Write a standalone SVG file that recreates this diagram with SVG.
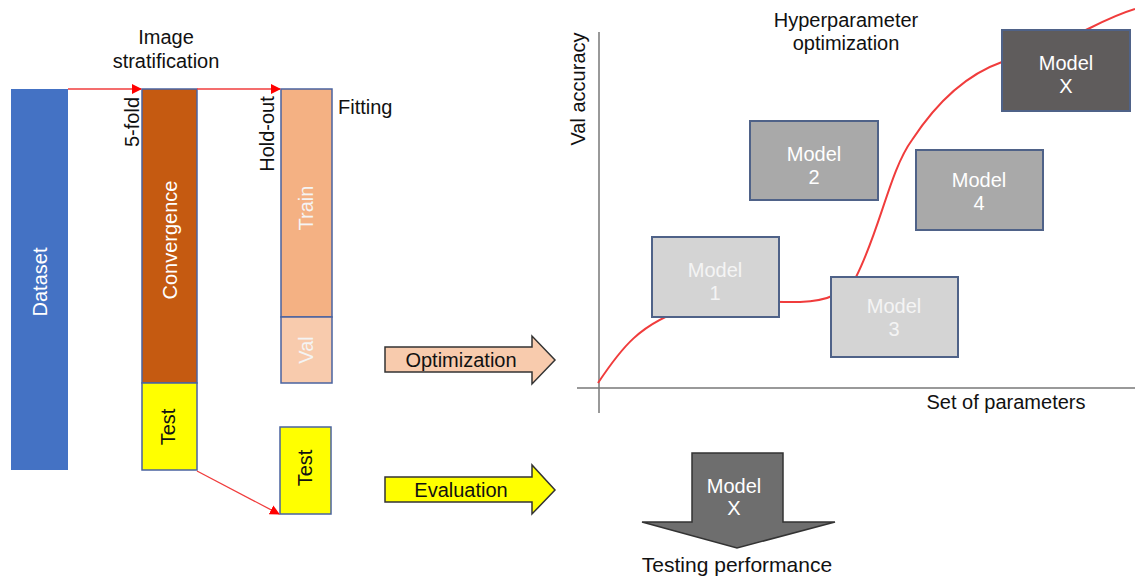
<svg xmlns="http://www.w3.org/2000/svg" width="1135" height="580" viewBox="0 0 1135 580">
<defs>
<style>
text{font-family:"Liberation Sans",Arial,sans-serif;font-size:20px;fill:#111}
.w{fill:#fff}
.lw{fill:#f4f4f4}
.bar{stroke:#4a63a0;stroke-width:1.5}
.mdl{stroke:#4f6288;stroke-width:2}
.red{stroke:#f03c3c;stroke-width:1.3;fill:none}
.ax{stroke:#777;stroke-width:1.5;fill:none}
.bigarrow{stroke:#333;stroke-width:1.5}
</style>
<marker id="ah" viewBox="0 0 10 10" refX="9" refY="5" markerWidth="10" markerHeight="10" markerUnits="userSpaceOnUse" orient="auto">
<path d="M0,0 L10,5 L0,10 Z" fill="#ff0000"/>
</marker>
</defs>
<rect width="1135" height="580" fill="#fff"/>

<text x="166" y="44" text-anchor="middle">Image</text>
<text x="166" y="68" text-anchor="middle">stratification</text>
<text x="338" y="114">Fitting</text>
<text transform="translate(139,122) rotate(-90)" text-anchor="middle">5-fold</text>
<text transform="translate(274,134) rotate(-90)" text-anchor="middle">Hold-out</text>

<g id="dataset">
<rect x="11" y="89" width="57" height="381" fill="#4472c4"/>
<text class="w" transform="translate(47,282) rotate(-90)" text-anchor="middle">Dataset</text>
</g>
<g id="convergence">
<rect class="bar" x="142" y="89" width="55" height="294" fill="#c55a11"/>
<text class="w" transform="translate(177,240) rotate(-90)" text-anchor="middle">Convergence</text>
</g>
<g id="test1">
<rect class="bar" x="142" y="383" width="55" height="87" fill="#ffff00"/>
<text transform="translate(175,427) rotate(-90)" text-anchor="middle">Test</text>
</g>
<g id="train">
<rect class="bar" x="281" y="89" width="51" height="228" fill="#f4b183"/>
<text class="lw" transform="translate(313,208) rotate(-90)" text-anchor="middle">Train</text>
</g>
<g id="val">
<rect class="bar" x="281" y="317" width="51" height="66" fill="#f8cbad"/>
<text class="lw" transform="translate(313,350) rotate(-90)" text-anchor="middle">Val</text>
</g>
<g id="test2">
<rect class="bar" x="280" y="427" width="51" height="87" fill="#ffff00"/>
<text transform="translate(312,468) rotate(-90)" text-anchor="middle">Test</text>
</g>

<g id="optimization">
<path class="bigarrow" d="M385,347 L532,347 L532,336 L555,360 L532,384 L532,372 L385,372 Z" fill="#f8cbad"/>
<text x="461" y="367" text-anchor="middle">Optimization</text>
</g>
<g id="evaluation">
<path class="bigarrow" d="M385,477 L532,477 L532,465 L555,490 L532,514 L532,502 L385,502 Z" fill="#ffff00"/>
<text x="461" y="497" text-anchor="middle">Evaluation</text>
</g>

<g id="chart-axes">
<path class="ax" d="M599,32 L599,413"/>
<path class="ax" d="M577,388 L1135,388"/>
<text transform="translate(585,89) rotate(-90)" text-anchor="middle">Val accuracy</text>
<text x="1006" y="409" text-anchor="middle">Set of parameters</text>
<text x="846" y="27" text-anchor="middle">Hyperparameter</text>
<text x="846" y="50" text-anchor="middle">optimization</text>
</g>

<g id="connectors">
<path class="red" d="M68,89 L141,89" marker-end="url(#ah)"/>
<path class="red" d="M197,89 L280,89" marker-end="url(#ah)"/>
<path class="red" d="M197,471 L279,514" marker-end="url(#ah)"/>
<path d="M598,383 C620,350 640,322 690,308 C730,300 770,302 800,302 C830,301 845,292 856,277 C880,230 890,170 912,140 C935,105 965,75 1002,62 C1040,48 1070,38 1090,28 C1110,18 1125,12 1135,9" stroke="#f03c3c" stroke-width="2" fill="none"/>
</g>

<g id="model1">
<rect class="mdl" x="652" y="237" width="127" height="80" fill="#d4d4d4"/>
<text class="lw" x="715" y="277" text-anchor="middle">Model</text>
<text class="lw" x="715" y="300" text-anchor="middle">1</text>
</g>
<g id="model2">
<rect class="mdl" x="750" y="121" width="128" height="79" fill="#a9a9a9"/>
<text class="w" x="814" y="161" text-anchor="middle">Model</text>
<text class="w" x="814" y="184" text-anchor="middle">2</text>
</g>
<g id="model3">
<rect class="mdl" x="831" y="277" width="127" height="80" fill="#d4d4d4"/>
<text class="lw" x="894" y="313" text-anchor="middle">Model</text>
<text class="lw" x="894" y="336" text-anchor="middle">3</text>
</g>
<g id="model4">
<rect class="mdl" x="916" y="150" width="127" height="80" fill="#a9a9a9"/>
<text class="w" x="979" y="187" text-anchor="middle">Model</text>
<text class="w" x="979" y="210" text-anchor="middle">4</text>
</g>
<g id="modelX">
<rect class="mdl" x="1002" y="30" width="128" height="81" fill="#5f5c5c"/>
<text class="w" x="1066" y="70" text-anchor="middle">Model</text>
<text class="w" x="1066" y="93" text-anchor="middle">X</text>
</g>

<g id="testing">
<path d="M692,453 L783,453 L783,522 L835,522 L737,548 L642,522 L692,522 Z" fill="#6e6e6e" stroke="#333" stroke-width="1.5"/>
<text class="w" x="734" y="493" text-anchor="middle">Model</text>
<text class="w" x="734" y="515" text-anchor="middle">X</text>
<text x="737" y="572" text-anchor="middle" style="font-size:21px">Testing performance</text>
</g>
</svg>
